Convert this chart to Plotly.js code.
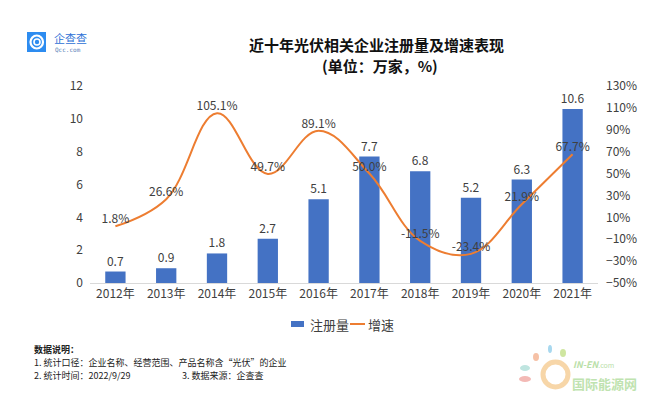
<!DOCTYPE html>
<html><head><meta charset="utf-8">
<script src="https://cdn.plot.ly/plotly-3.0.1.min.js"></script>
<style>body{margin:0;background:#fff}#c{width:658px;height:396px}</style>
</head><body><div id="c"></div>
<script>
const years = ['2012年','2013年','2014年','2015年','2016年','2017年','2018年','2019年','2020年','2021年'];
const registrations = [0.7, 0.9, 1.8, 2.7, 5.1, 7.7, 6.8, 5.2, 6.3, 10.6];
const growth = [1.8, 26.6, 105.1, 49.7, 89.1, 50.0, -11.5, -23.4, 21.9, 67.7];
const growthLabels = growth.map(v => v.toFixed(1) + '%');
const seriesNames = ['注册量', '增速'];

const L = 90, R = 598, T = 86, B = 283;
const px = x => (x - L) / (R - L);
const py = y => (B - y) / (B - T);
const font = '"Noto Sans CJK SC", "Noto Sans", sans-serif';

const traces = [
  {type:'bar', x: years, y: registrations, name: seriesNames[0],
   marker:{color:'#4472C4'}, text: registrations.map(v=>v.toFixed(1)),
   textposition:'outside', cliponaxis:false, constraintext:'none',
   textfont:{size:12, color:'#404040', family:font}, hoverinfo:'skip'},
  {type:'scatter', mode:'lines+text', x: years, y: growth, yaxis:'y2', name: seriesNames[1],
   line:{color:'#ED7D31', width:2, shape:'spline', smoothing:1.1},
   text: growthLabels, textposition:'top center', cliponaxis:false,
   textfont:{size:12, color:'#404040', family:font}, hoverinfo:'skip'}
];

const ann = (x, y, text, size, opts) => Object.assign({xref:'paper', yref:'paper', x:px(x), y:py(y), text,
  showarrow:false, xanchor:'left', yanchor:'middle', font:{size, color:'#222', family:font}}, opts||{});

const layout = {
  width:658, height:396, paper_bgcolor:'#fff', plot_bgcolor:'#fff',
  margin:{l:L, r:658-R, t:T, b:396-B},
  font:{family:font, color:'#404040', size:12},
  showlegend:false,
  bargap:0.6,
  xaxis:{tickfont:{size:12, color:'#404040'}, showline:true, linecolor:'#d9d9d9', ticks:'', fixedrange:true},
  yaxis:{range:[0,12], dtick:2, showgrid:false, zeroline:false, ticks:'', ticklabelstandoff:6, tickfont:{size:12, color:'#404040'}},
  yaxis2:{range:[-50,130], dtick:20, tick0:-50, overlaying:'y', side:'right', showgrid:false, zeroline:false,
          ticksuffix:'%', ticks:'', ticklabelstandoff:7, tickfont:{size:12, color:'#404040'}},
  annotations:[
    ann(376, 44, '<b>近十年光伏相关企业注册量及增速表现</b>', 15, {xanchor:'center', font:{size:15, color:'#111', family:font}}),
    ann(380, 65, '<b>(单位：万家，%)</b>', 15, {xanchor:'center', font:{size:15, color:'#111', family:font}}),
    ann(52, 37.5, '企查查', 11, {font:{size:11, color:'#2C6FD6', family:font}}),
    ann(53, 50, 'Qcc.com', 6, {font:{size:6, color:'#5A7FB8', family:'DejaVu Sans Mono'}}),
    ann(308, 324, seriesNames[0], 13, {font:{size:13, color:'#404040', family:font}}),
    ann(366, 324, seriesNames[1], 13, {font:{size:13, color:'#404040', family:font}}),
    ann(32, 349, '<b>数据说明：</b>', 9),
    ann(32, 362, '1. 统计口径：企业名称、经营范围、产品名称含“光伏”的企业', 9),
    ann(32, 375, '2. 统计时间：2022/9/29', 9),
    ann(180, 375, '3. 数据来源：企查查', 9),
    ann(571, 364, '<i><b>IN-EN</b></i><span style="font-size:7px">.com</span>', 9, {font:{size:9, color:'#b9e0a8', family:font}}),
    ann(570, 383, '<b>国际能源网</b>', 13, {font:{size:13, color:'#bfe3b0', family:font}})
  ],
  shapes:[
    {type:'rect', xref:'paper', yref:'paper', x0:px(291), x1:px(304), y0:py(327), y1:py(321), fillcolor:'#4472C4', line:{width:0}},
    {type:'line', xref:'paper', yref:'paper', x0:px(350), x1:px(365), y0:py(324), y1:py(324), line:{color:'#ED7D31', width:2}},
    {type:'rect', xref:'paper', yref:'paper', x0:px(27), x1:px(46), y0:py(52), y1:py(32), fillcolor:'#2D8CF0', line:{width:0}},
    {type:'circle', xref:'paper', yref:'paper', x0:px(30.5), x1:px(43), y0:py(48.5), y1:py(35.5), fillcolor:'rgba(0,0,0,0)', line:{color:'#fff', width:2.2}},
    {type:'circle', xref:'paper', yref:'paper', x0:px(34), x1:px(40), y0:py(45), y1:py(39), fillcolor:'rgba(0,0,0,0)', line:{color:'#fff', width:1.6}},
    {type:'circle', xref:'paper', yref:'paper', x0:px(543), x1:px(568), y0:py(387), y1:py(362), fillcolor:'rgba(0,0,0,0)', line:{color:'#f7d6a8', width:5}},
    {type:'circle', xref:'paper', yref:'paper', x0:px(548), x1:px(552), y0:py(353), y1:py(345), fillcolor:'#a8d8ef', line:{width:0}},
    {type:'circle', xref:'paper', yref:'paper', x0:px(533), x1:px(539), y0:py(361), y1:py(353), fillcolor:'#f6c1a6', line:{width:0}},
    {type:'circle', xref:'paper', yref:'paper', x0:px(560), x1:px(566), y0:py(357), y1:py(349), fillcolor:'#cfe6a0', line:{width:0}},
    {type:'circle', xref:'paper', yref:'paper', x0:px(520), x1:px(530), y0:py(371), y1:py(365), fillcolor:'#bfe5e0', line:{width:0}},
    {type:'circle', xref:'paper', yref:'paper', x0:px(519), x1:px(531), y0:py(382), y1:py(376), fillcolor:'#f3b9b5', line:{width:0}}
  ]
};
Plotly.newPlot('c', traces, layout, {displayModeBar:false, staticPlot:true});
</script></body></html>
